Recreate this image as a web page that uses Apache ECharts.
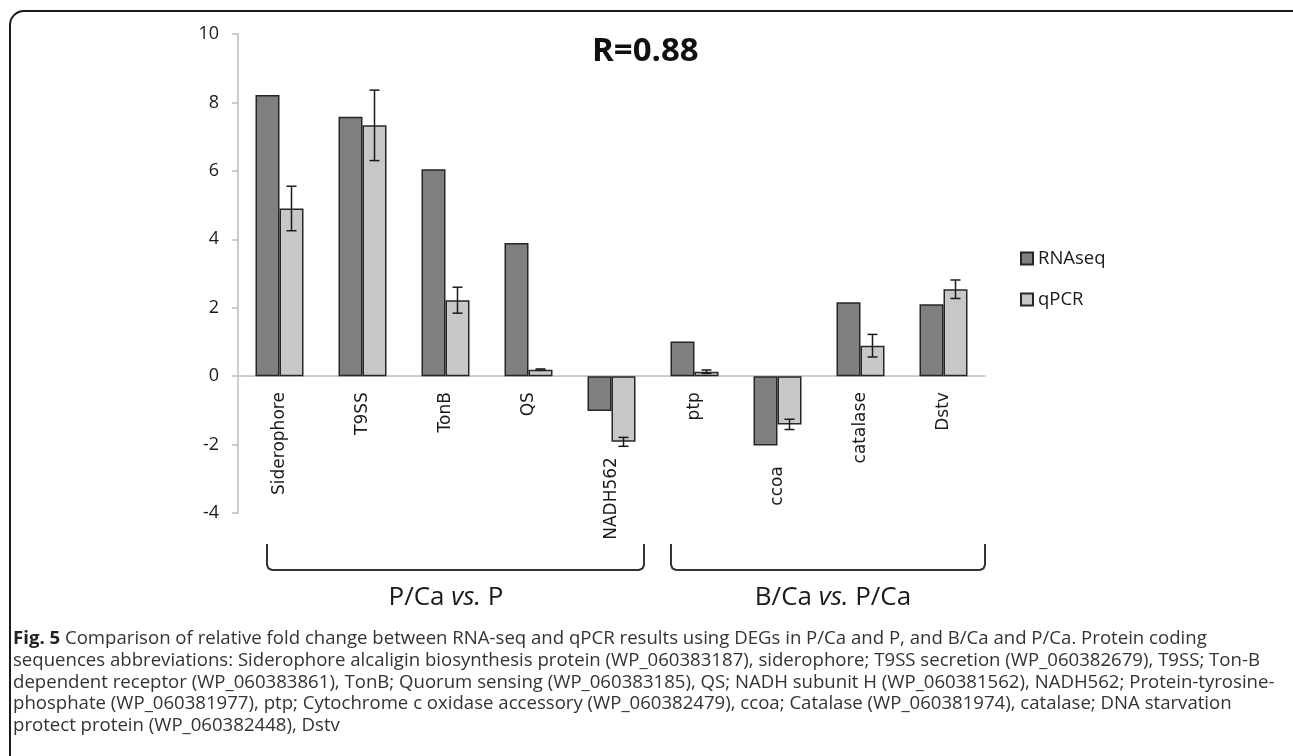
<!DOCTYPE html>
<html>
<head>
<meta charset="utf-8">
<script src="https://cdn.jsdelivr.net/npm/echarts@6/dist/echarts.min.js"></script>
<style>
  html, body { margin: 0; padding: 0; background: #fff; }
  #chart { width: 1293px; height: 756px; }
</style>
</head>
<body>
<div id="chart"></div>
<script>
// 基因类别
var genes = ["Siderophore", "T9SS", "TonB", "QS", "NADH562", "ptp", "ccoa", "catalase", "Dstv"];
// RNA-seq 倍数变化
var rnaseq = [8.22, 7.58, 6.05, 3.89, -1.02, 1.01, -2.03, 2.16, 2.10];
// qPCR 倍数变化及误差
var qpcr = [4.90, 7.33, 2.22, 0.19, -1.92, 0.13, -1.41, 0.89, 2.54];
var qpcrErr = [0.65, 1.03, 0.38, 0.02, 0.13, 0.05, 0.15, 0.33, 0.27];
// 纵轴刻度
var yTicks = [-4, -2, 0, 2, 4, 6, 8, 10];
// 分组标签
var groupNames = ["P/Ca", "B/Ca"];
var groupRefs = ["P", "P/Ca"];

var BAR_W = 24;
var labelFont = "'DejaVu Sans', Verdana, sans-serif";
var mainFont = "'Open Sans', 'Noto Sans', sans-serif";

var chart = echarts.init(document.getElementById("chart"));

//误差棒数据
var errData = [];
qpcr.forEach(function(v, i) {
  errData.push([i, v, qpcrErr[i]]);
});

//误差棒绘制
function renderErr(params, api) {
  var idx = api.value(0);
  var v = api.value(1);
  var e = api.value(2);
  var x = api.coord([idx, 0])[0] + BAR_W / 2;
  var yHi = api.coord([idx, v + e])[1];
  var yLo = api.coord([idx, v - e])[1];
  var st = { stroke: "#1a1a1a", lineWidth: 1.5 };
  return {
    type: "group",
    children: [
      { type: "line", shape: { x1: x, y1: yHi, x2: x, y2: yLo }, style: st },
      { type: "line", shape: { x1: x - 5, y1: yHi, x2: x + 5, y2: yHi }, style: st },
      { type: "line", shape: { x1: x - 5, y1: yLo, x2: x + 5, y2: yLo }, style: st }
    ]
  };
}

//横轴标签：负值较大的类别标签下移
function labelFmt(val) {
  if (val === "NADH562") return "{n|" + val + "}";
  if (val === "ccoa") return "{c|" + val + "}";
  return val;
}

//括号折线
function bracket(x1, x2) {
  return [
    [x1, 544], [x1, 565], [x1 + 1.5, 568.5], [x1 + 5, 570],
    [x2 - 5, 570], [x2 - 1.5, 568.5], [x2, 565], [x2, 544]
  ];
}

var option = {
  animation: false,
  title: {
    text: "R=0.88",
    left: 592,
    top: 35,
    padding: 0,
    textStyle: { fontFamily: mainFont, fontSize: 33, fontWeight: "bold", color: "#111" }
  },
  legend: {
    data: ["RNAseq", "qPCR"],
    orient: "vertical",
    left: 1020,
    top: 249,
    padding: 0,
    itemWidth: 12,
    itemHeight: 12,
    itemGap: 22,
    icon: "rect",
    textStyle: { fontFamily: mainFont, fontSize: 18.5, color: "#1a1a1a" }
  },
  grid: { left: 238, top: 34, right: 308, bottom: 243, containLabel: false },
  xAxis: {
    type: "category",
    data: genes,
    axisLine: { onZero: false, lineStyle: { color: "#bdbdbd", width: 1.5 } },
    axisTick: { show: false },
    axisLabel: {
      interval: 0,
      rotate: 90,
      margin: 16,
      fontFamily: labelFont,
      fontSize: 17,
      color: "#1a1a1a",
      formatter: labelFmt,
      rich: {
        n: { fontFamily: labelFont, fontSize: 17, color: "#1a1a1a", padding: [0, 65, 0, 0] },
        c: { fontFamily: labelFont, fontSize: 17, color: "#1a1a1a", padding: [0, 74, 0, 0] }
      }
    }
  },
  yAxis: {
    type: "value",
    min: yTicks[0],
    max: yTicks[yTicks.length - 1],
    interval: 2,
    axisLine: { show: true, lineStyle: { color: "#bdbdbd", width: 1.5 } },
    axisTick: { show: true, length: 6, lineStyle: { color: "#bdbdbd", width: 1.5 } },
    splitLine: { show: false },
    axisLabel: { margin: 19, fontFamily: mainFont, fontSize: 18, color: "#1a1a1a" }
  },
  series: [
    {
      name: "RNAseq",
      type: "bar",
      data: rnaseq,
      barWidth: BAR_W,
      barGap: "0%",
      itemStyle: { color: "#7f7f7f", borderColor: "#262626", borderWidth: 1.5 }
    },
    {
      name: "qPCR",
      type: "bar",
      data: qpcr,
      barWidth: BAR_W,
      barGap: "0%",
      itemStyle: { color: "#c7c8c7", borderColor: "#262626", borderWidth: 1.5 }
    },
    {
      name: "qPCR误差",
      type: "custom",
      renderItem: renderErr,
      data: errData,
      encode: { x: 0, y: [1] },
      z: 5,
      silent: true
    }
  ],
  graphic: [
    //外框
    {
      type: "rect",
      shape: { x: 10, y: 11, width: 1300, height: 800, r: 14 },
      style: { fill: "rgba(0,0,0,0)", stroke: "#1a1a1a", lineWidth: 2 },
      silent: true
    },
    //左括号
    {
      type: "polyline",
      shape: { points: bracket(267, 644) },
      style: { fill: "rgba(0,0,0,0)", stroke: "#333", lineWidth: 2 }
    },
    //右括号
    {
      type: "polyline",
      shape: { points: bracket(671, 985) },
      style: { fill: "rgba(0,0,0,0)", stroke: "#333", lineWidth: 2 }
    },
    {
      type: "text",
      x: 446,
      y: 585,
      style: {
        text: groupNames[0] + " {i|vs.} " + groupRefs[0],
        fontFamily: mainFont,
        fontSize: 26,
        fill: "#1a1a1a",
        align: "center",
        verticalAlign: "top",
        rich: { i: { fontFamily: mainFont, fontSize: 26, fontStyle: "italic", fill: "#1a1a1a" } }
      }
    },
    {
      type: "text",
      x: 833,
      y: 585,
      style: {
        text: groupNames[1] + " {i|vs.} " + groupRefs[1],
        fontFamily: mainFont,
        fontSize: 26,
        fill: "#1a1a1a",
        align: "center",
        verticalAlign: "top",
        rich: { i: { fontFamily: mainFont, fontSize: 26, fontStyle: "italic", fill: "#1a1a1a" } }
      }
    },
    //图注
    {
      type: "text",
      left: 13,
      top: 628,
      style: {
        text: [
          "{b|Fig. 5} Comparison of relative fold change between RNA-seq and qPCR results using DEGs in P/Ca and P, and B/Ca and P/Ca. Protein coding",
          "sequences abbreviations: Siderophore alcaligin biosynthesis protein (WP_060383187), siderophore; T9SS secretion (WP_060382679), T9SS; Ton-B",
          "dependent receptor (WP_060383861), TonB; Quorum sensing (WP_060383185), QS; NADH subunit H (WP_060381562), NADH562; Protein-tyrosine-",
          "phosphate (WP_060381977), ptp; Cytochrome c oxidase accessory (WP_060382479), ccoa; Catalase (WP_060381974), catalase; DNA starvation",
          "protect protein (WP_060382448), Dstv"
        ].join("\n"),
        fontFamily: mainFont,
        fontSize: 18.6,
        lineHeight: 21.7,
        fill: "#333",
        rich: {
          b: { fontFamily: mainFont, fontSize: 18.6, fontWeight: "bold", lineHeight: 21.7, fill: "#222" }
        }
      }
    }
  ]
};

chart.setOption(option);

//将横轴(含标签)移到 y=0 处
var yZero = chart.convertToPixel({ yAxisIndex: 0 }, 0);
var yBottom = chart.convertToPixel({ yAxisIndex: 0 }, yTicks[0]);
chart.setOption({ xAxis: { offset: yZero - yBottom } });

window.addEventListener("resize", function() {
  chart.resize();
});
</script>
</body>
</html>
